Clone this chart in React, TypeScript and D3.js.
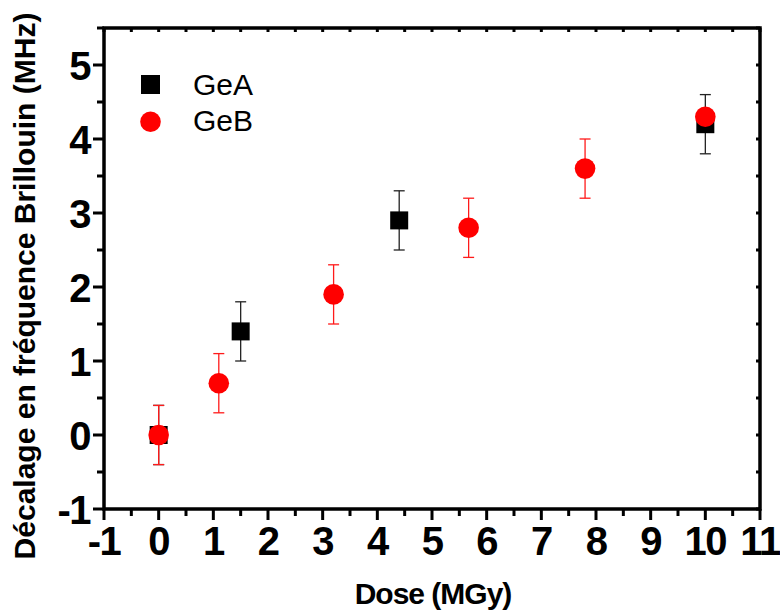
import React from "react";
import * as d3 from "d3";

const geaDose = [0, 1.5, 4.4, 10];
const geaShift = [0, 1.4, 2.9, 4.2];
const geaErr = [0.4, 0.4, 0.4, 0.4];

const gebDose = [0, 1.1, 3.2, 5.67, 7.8, 10];
const gebShift = [0, 0.7, 1.9, 2.8, 3.6, 4.3];
const gebErr = [0.4, 0.4, 0.4, 0.4, 0.4, 0];

const xTicks = [-1, 0, 1, 2, 3, 4, 5, 6, 7, 8, 9, 10, 11];
const yTicks = [-1, 0, 1, 2, 3, 4, 5];
const legendLabels = ["GeA", "GeB"];
const xTitle = "Dose (MGy)";
const yTitle = "Décalage en fréquence Brillouin (MHz)";

const W = 780;
const H = 611;
const FONT = "'Liberation Sans', Arial, sans-serif";

export default function App() {
  const x = d3.scaleLinear().domain([-1, 11]).range([104, 760]);
  const y = d3.scaleLinear().domain([-1, 5.5]).range([509, 28]);
  const xMinor = d3.range(-1, 11.01, 0.5);
  const yMinor = d3.range(-1, 5.51, 0.5);
  const isMajor = (v: number) => Math.abs(v - Math.round(v)) < 1e-6;
  const cap = 5.5;

  const gea = geaDose.map((d, i) => ({ d, s: geaShift[i], e: geaErr[i] }));
  const geb = gebDose.map((d, i) => ({ d, s: gebShift[i], e: gebErr[i] }));

  const errBar = (p: { d: number; s: number; e: number }, color: string, key: string) =>
    p.e > 0 ? (
      <g key={key} stroke={color} strokeWidth={1.3}>
        <line x1={x(p.d)} x2={x(p.d)} y1={y(p.s + p.e)} y2={y(p.s - p.e)} />
        <line x1={x(p.d) - cap} x2={x(p.d) + cap} y1={y(p.s + p.e)} y2={y(p.s + p.e)} />
        <line x1={x(p.d) - cap} x2={x(p.d) + cap} y1={y(p.s - p.e)} y2={y(p.s - p.e)} />
      </g>
    ) : null;

  return (
    <svg
      width={W}
      height={H}
      style={{ position: "absolute", left: 0, top: 0, background: "#fff" }}
      fontFamily={FONT}
    >
      <rect x={0} y={0} width={W} height={H} fill="#fff" />
      <rect
        x={x(-1)}
        y={y(5.5)}
        width={x(11) - x(-1)}
        height={y(-1) - y(5.5)}
        fill="none"
        stroke="#000"
        strokeWidth={3.5}
      />
      {xMinor.map((v) => (
        <line
          key={"xb" + v}
          x1={x(v)}
          x2={x(v)}
          y1={y(-1)}
          y2={y(-1) + (isMajor(v) ? 11 : 7)}
          stroke="#000"
          strokeWidth={3}
        />
      ))}
      {xMinor.map((v) => (
        <line
          key={"xt" + v}
          x1={x(v)}
          x2={x(v)}
          y1={y(5.5)}
          y2={y(5.5) + 4}
          stroke="#000"
          strokeWidth={3}
        />
      ))}
      {yMinor.map((v) => (
        <line
          key={"yl" + v}
          x1={x(-1)}
          x2={x(-1) - (isMajor(v) ? 11 : 7)}
          y1={y(v)}
          y2={y(v)}
          stroke="#000"
          strokeWidth={3}
        />
      ))}
      {yMinor.map((v) => (
        <line
          key={"yr" + v}
          x1={x(11)}
          x2={x(11) - 4}
          y1={y(v)}
          y2={y(v)}
          stroke="#000"
          strokeWidth={3}
        />
      ))}
      {xTicks.map((v) => (
        <text
          key={"xl" + v}
          x={x(v)}
          y={555}
          textAnchor="middle"
          fontSize={40}
          fontWeight="bold"
          letterSpacing={-1.5}
        >
          {String(v)}
        </text>
      ))}
      {yTicks.map((v) => (
        <text
          key={"ylab" + v}
          x={90}
          y={y(v) + 14.5}
          textAnchor="end"
          fontSize={40}
          fontWeight="bold"
          letterSpacing={-1.5}
        >
          {String(v)}
        </text>
      ))}
      <text
        x={433}
        y={604}
        textAnchor="middle"
        fontSize={30}
        fontWeight="bold"
        letterSpacing={-1}
      >
        {xTitle}
      </text>
      <text
        transform="translate(35,286) rotate(-90)"
        textAnchor="middle"
        fontSize={30}
        fontWeight="bold"
        letterSpacing={0}
      >
        {yTitle}
      </text>
      {gea.map((p, i) => errBar(p, "#222", "ea" + i))}
      {gea.map((p, i) => (
        <rect key={"sq" + i} x={x(p.d) - 9} y={y(p.s) - 9} width={18} height={18} fill="#000" />
      ))}
      {geb.map((p, i) => errBar(p, "#ff1a1a", "eb" + i))}
      {geb.map((p, i) => (
        <circle key={"ci" + i} cx={x(p.d)} cy={y(p.s)} r={10.3} fill="#ff0000" />
      ))}
      <rect x={141} y={75} width={19} height={19} fill="#000" />
      <circle cx={150.5} cy={121.7} r={10.3} fill="#ff0000" />
      <text x={193} y={95} fontSize={30}>{legendLabels[0]}</text>
      <text x={193} y={130.5} fontSize={30}>{legendLabels[1]}</text>
    </svg>
  );
}
